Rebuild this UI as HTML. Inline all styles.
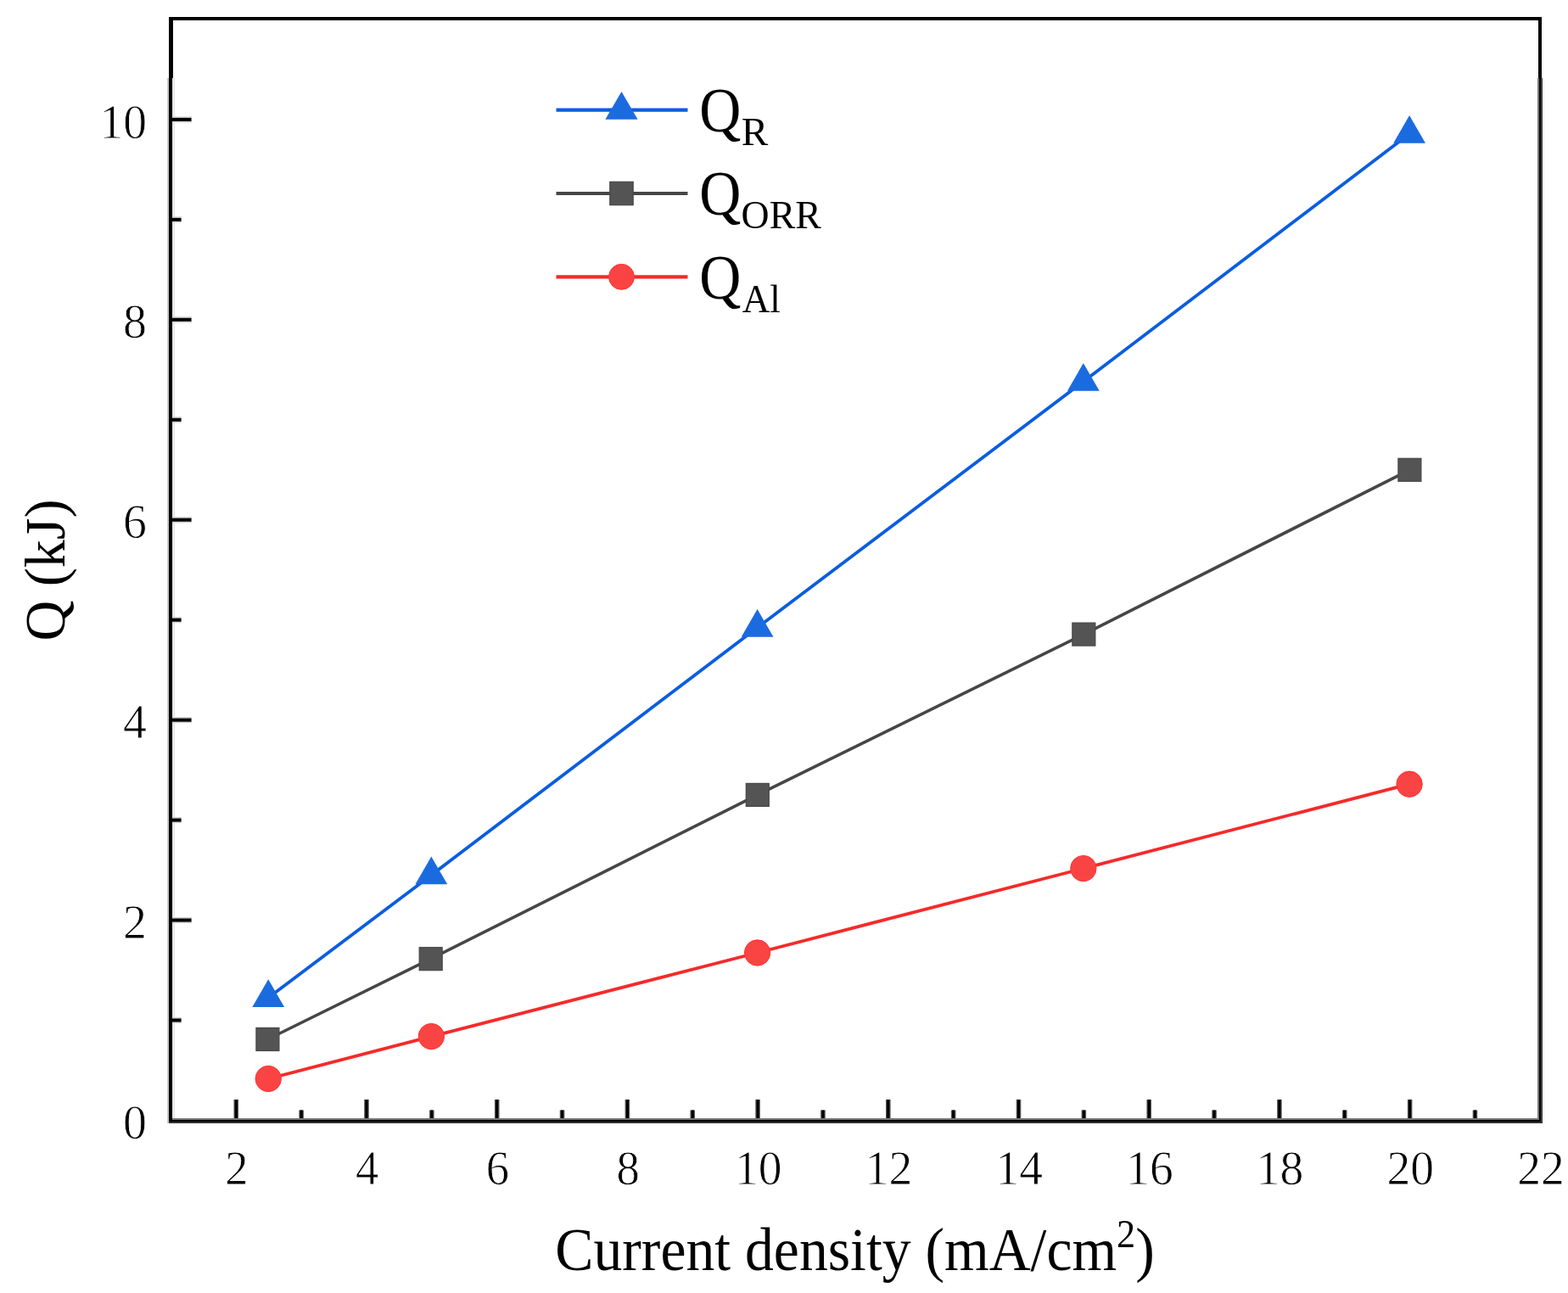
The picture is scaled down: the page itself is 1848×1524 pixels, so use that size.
<!DOCTYPE html>
<html><head><meta charset="utf-8"><style>
html,body{margin:0;padding:0;background:#fff;}
svg{display:block;}
text{font-family:"Liberation Serif","Times New Roman",serif;fill:#000;}
.tk{font-size:57px;stroke:#fff;stroke-width:0.8px;}
.lg{font-size:74px;}
.sub{font-size:46px;}
.ttl{font-size:72px;}
.yttl{font-size:68px;}
.sup{font-size:47px;}
</style></head><body>
<svg width="1848" height="1524" viewBox="0 0 1848 1524">
<rect width="1848" height="1524" fill="#fff"/>
<rect x="199" y="20" width="1618" height="4" fill="#000"/>
<rect x="199" y="20" width="5" height="72" fill="#000"/>
<rect x="1813" y="20" width="4" height="72" fill="#000"/>
<rect x="197" y="92" width="2" height="1232" fill="#c8c8c8"/>
<rect x="203" y="92" width="3" height="1226" fill="#e6e6e6"/>
<rect x="199" y="92" width="4" height="1232" fill="#000"/>
<rect x="1812" y="92" width="2" height="1228" fill="#787878"/>
<rect x="1816.5" y="92" width="1.5" height="1232" fill="#333"/>
<rect x="1814" y="92" width="2.5" height="1232" fill="#000"/>
<rect x="203" y="1318" width="1609" height="2" fill="#777"/>
<rect x="199" y="1322" width="1619" height="2" fill="#363636"/>
<rect x="199" y="1320" width="1617" height="2.2" fill="#000"/>
<rect x="203" y="1198.94" width="11.0" height="7.2" fill="#d4d4d4"/>
<rect x="203" y="1080.98" width="23.0" height="7.2" fill="#d4d4d4"/>
<rect x="203" y="963.02" width="11.0" height="7.2" fill="#d4d4d4"/>
<rect x="203" y="845.06" width="23.0" height="7.2" fill="#d4d4d4"/>
<rect x="203" y="727.10" width="11.0" height="7.2" fill="#d4d4d4"/>
<rect x="203" y="609.14" width="23.0" height="7.2" fill="#d4d4d4"/>
<rect x="203" y="491.18" width="11.0" height="7.2" fill="#d4d4d4"/>
<rect x="203" y="373.22" width="23.0" height="7.2" fill="#d4d4d4"/>
<rect x="203" y="255.26" width="11.0" height="7.2" fill="#d4d4d4"/>
<rect x="203" y="137.30" width="23.0" height="7.2" fill="#d4d4d4"/>
<rect x="203" y="1200.54" width="10.5" height="4" fill="#000"/>
<rect x="203" y="1082.58" width="22.5" height="4" fill="#000"/>
<rect x="203" y="964.62" width="10.5" height="4" fill="#000"/>
<rect x="203" y="846.66" width="22.5" height="4" fill="#000"/>
<rect x="203" y="728.70" width="10.5" height="4" fill="#000"/>
<rect x="203" y="610.74" width="22.5" height="4" fill="#000"/>
<rect x="203" y="492.78" width="10.5" height="4" fill="#000"/>
<rect x="203" y="374.82" width="22.5" height="4" fill="#000"/>
<rect x="203" y="256.86" width="10.5" height="4" fill="#000"/>
<rect x="203" y="138.90" width="22.5" height="4" fill="#000"/>
<rect x="275.50" y="1296" width="5.6" height="22" fill="#5a5a5a"/>
<rect x="276.70" y="1296" width="3.2" height="22" fill="#000"/>
<rect x="352.35" y="1308.5" width="5.6" height="9.5" fill="#5a5a5a"/>
<rect x="353.55" y="1308.5" width="3.2" height="9.5" fill="#000"/>
<rect x="429.20" y="1296" width="5.6" height="22" fill="#5a5a5a"/>
<rect x="430.40" y="1296" width="3.2" height="22" fill="#000"/>
<rect x="506.05" y="1308.5" width="5.6" height="9.5" fill="#5a5a5a"/>
<rect x="507.25" y="1308.5" width="3.2" height="9.5" fill="#000"/>
<rect x="582.90" y="1296" width="5.6" height="22" fill="#5a5a5a"/>
<rect x="584.10" y="1296" width="3.2" height="22" fill="#000"/>
<rect x="659.75" y="1308.5" width="5.6" height="9.5" fill="#5a5a5a"/>
<rect x="660.95" y="1308.5" width="3.2" height="9.5" fill="#000"/>
<rect x="736.60" y="1296" width="5.6" height="22" fill="#5a5a5a"/>
<rect x="737.80" y="1296" width="3.2" height="22" fill="#000"/>
<rect x="813.45" y="1308.5" width="5.6" height="9.5" fill="#5a5a5a"/>
<rect x="814.65" y="1308.5" width="3.2" height="9.5" fill="#000"/>
<rect x="890.30" y="1296" width="5.6" height="22" fill="#5a5a5a"/>
<rect x="891.50" y="1296" width="3.2" height="22" fill="#000"/>
<rect x="967.15" y="1308.5" width="5.6" height="9.5" fill="#5a5a5a"/>
<rect x="968.35" y="1308.5" width="3.2" height="9.5" fill="#000"/>
<rect x="1044.00" y="1296" width="5.6" height="22" fill="#5a5a5a"/>
<rect x="1045.20" y="1296" width="3.2" height="22" fill="#000"/>
<rect x="1120.85" y="1308.5" width="5.6" height="9.5" fill="#5a5a5a"/>
<rect x="1122.05" y="1308.5" width="3.2" height="9.5" fill="#000"/>
<rect x="1197.70" y="1296" width="5.6" height="22" fill="#5a5a5a"/>
<rect x="1198.90" y="1296" width="3.2" height="22" fill="#000"/>
<rect x="1274.55" y="1308.5" width="5.6" height="9.5" fill="#5a5a5a"/>
<rect x="1275.75" y="1308.5" width="3.2" height="9.5" fill="#000"/>
<rect x="1351.40" y="1296" width="5.6" height="22" fill="#5a5a5a"/>
<rect x="1352.60" y="1296" width="3.2" height="22" fill="#000"/>
<rect x="1428.25" y="1308.5" width="5.6" height="9.5" fill="#5a5a5a"/>
<rect x="1429.45" y="1308.5" width="3.2" height="9.5" fill="#000"/>
<rect x="1505.10" y="1296" width="5.6" height="22" fill="#5a5a5a"/>
<rect x="1506.30" y="1296" width="3.2" height="22" fill="#000"/>
<rect x="1581.95" y="1308.5" width="5.6" height="9.5" fill="#5a5a5a"/>
<rect x="1583.15" y="1308.5" width="3.2" height="9.5" fill="#000"/>
<rect x="1658.80" y="1296" width="5.6" height="22" fill="#5a5a5a"/>
<rect x="1660.00" y="1296" width="3.2" height="22" fill="#000"/>
<rect x="1735.65" y="1308.5" width="5.6" height="9.5" fill="#5a5a5a"/>
<rect x="1736.85" y="1308.5" width="3.2" height="9.5" fill="#000"/>
<text transform="translate(173.0,1342.10) scale(0.98,1)" text-anchor="end" class="tk">0</text>
<text transform="translate(173.0,1106.18) scale(0.98,1)" text-anchor="end" class="tk">2</text>
<text transform="translate(173.0,870.26) scale(0.98,1)" text-anchor="end" class="tk">4</text>
<text transform="translate(173.0,634.34) scale(0.98,1)" text-anchor="end" class="tk">6</text>
<text transform="translate(173.0,398.42) scale(0.98,1)" text-anchor="end" class="tk">8</text>
<text transform="translate(173.0,162.50) scale(0.975,1)" text-anchor="end" class="tk">10</text>
<text transform="translate(279.00,1396.4) scale(0.96,1)" text-anchor="middle" class="tk">2</text>
<text transform="translate(432.70,1396.4) scale(0.96,1)" text-anchor="middle" class="tk">4</text>
<text transform="translate(586.40,1396.4) scale(0.96,1)" text-anchor="middle" class="tk">6</text>
<text transform="translate(740.10,1396.4) scale(0.96,1)" text-anchor="middle" class="tk">8</text>
<text transform="translate(893.80,1396.4) scale(0.975,1)" text-anchor="middle" class="tk">10</text>
<text transform="translate(1047.50,1396.4) scale(0.975,1)" text-anchor="middle" class="tk">12</text>
<text transform="translate(1201.20,1396.4) scale(0.975,1)" text-anchor="middle" class="tk">14</text>
<text transform="translate(1354.90,1396.4) scale(0.975,1)" text-anchor="middle" class="tk">16</text>
<text transform="translate(1508.60,1396.4) scale(0.975,1)" text-anchor="middle" class="tk">18</text>
<text transform="translate(1662.30,1396.4) scale(0.975,1)" text-anchor="middle" class="tk">20</text>
<text transform="translate(1816.00,1396.4) scale(0.975,1)" text-anchor="middle" class="tk">22</text>
<polyline points="316.23,1271.50 508.35,1221.60 892.60,1123.00 1276.85,1023.60 1661.10,924.20" fill="none" stroke="#f52a2a" stroke-width="3.8" stroke-linejoin="round"/>
<polyline points="315.43,1225.00 507.70,1130.20 892.80,936.90 1277.35,747.60 1661.40,553.80" fill="none" stroke="#464646" stroke-width="3.6" stroke-linejoin="round"/>
<polyline points="316.23,1176.00 508.35,1031.40 892.60,739.80 1276.85,449.80 1661.10,157.80" fill="none" stroke="#0b5de0" stroke-width="3.8" stroke-linejoin="round"/>
<circle cx="316.23" cy="1271.50" r="15.2" fill="#fa4444" stroke="#ff3434" stroke-width="1"/>
<circle cx="508.35" cy="1221.60" r="15.2" fill="#fa4444" stroke="#ff3434" stroke-width="1"/>
<circle cx="892.60" cy="1123.00" r="15.2" fill="#fa4444" stroke="#ff3434" stroke-width="1"/>
<circle cx="1276.85" cy="1023.60" r="15.2" fill="#fa4444" stroke="#ff3434" stroke-width="1"/>
<circle cx="1661.10" cy="924.20" r="15.2" fill="#fa4444" stroke="#ff3434" stroke-width="1"/>
<rect x="301.93" y="1211.50" width="27.0" height="27.0" fill="#545454" stroke="#474747" stroke-width="1.2"/>
<rect x="494.20" y="1116.70" width="27.0" height="27.0" fill="#545454" stroke="#474747" stroke-width="1.2"/>
<rect x="879.30" y="923.40" width="27.0" height="27.0" fill="#545454" stroke="#474747" stroke-width="1.2"/>
<rect x="1263.85" y="734.10" width="27.0" height="27.0" fill="#545454" stroke="#474747" stroke-width="1.2"/>
<rect x="1647.90" y="540.30" width="27.0" height="27.0" fill="#545454" stroke="#474747" stroke-width="1.2"/>
<polygon points="316.23,1154.20 335.12,1186.90 297.33,1186.90" fill="#1b6be0"/>
<polygon points="508.35,1009.60 527.25,1042.30 489.45,1042.30" fill="#1b6be0"/>
<polygon points="892.60,718.00 911.50,750.70 873.70,750.70" fill="#1b6be0"/>
<polygon points="1276.85,428.00 1295.75,460.70 1257.95,460.70" fill="#1b6be0"/>
<polygon points="1661.10,136.00 1680.00,168.70 1642.20,168.70" fill="#1b6be0"/>
<line x1="655.5" y1="129.7" x2="810.5" y2="129.7" stroke="#0b5de0" stroke-width="4.2"/>
<polygon points="732.50,108.03 751.60,140.83 713.40,140.83" fill="#1b6be0"/>
<line x1="655.5" y1="228.0" x2="810.5" y2="228.0" stroke="#464646" stroke-width="4.2"/>
<rect x="718.80" y="214.30" width="27.4" height="27.4" fill="#545454" stroke="#474747" stroke-width="1.2"/>
<line x1="655.5" y1="326.3" x2="810.5" y2="326.3" stroke="#f52a2a" stroke-width="4.2"/>
<circle cx="732.50" cy="326.30" r="15.0" fill="#fa4444" stroke="#ff3434" stroke-width="1"/>
<text transform="matrix(0.9184,0,0,1,824.34,154.90)" class="lg">Q</text>
<text transform="matrix(1.027,0,0,1,873.67,170.80)" class="sub">R</text>
<text transform="matrix(0.9184,0,0,1,824.34,253.30)" class="lg">Q</text>
<text transform="matrix(0.996,0,0,1,873.61,269.20)" class="sub">ORR</text>
<text transform="matrix(0.9184,0,0,1,824.34,351.70)" class="lg">Q</text>
<text transform="matrix(0.982,0,0,1,874.7,367.60)" class="sub">Al</text>
<text transform="matrix(0.9405,0,0,1,654.28,1497.2)" class="ttl">Current density (mA/cm<tspan dy="-27" class="sup">2</tspan><tspan dy="27">)</tspan></text>
<text transform="matrix(0,-0.9729,1,0,76.40,755.62)" class="yttl">Q (kJ)</text>
</svg>
</body></html>
